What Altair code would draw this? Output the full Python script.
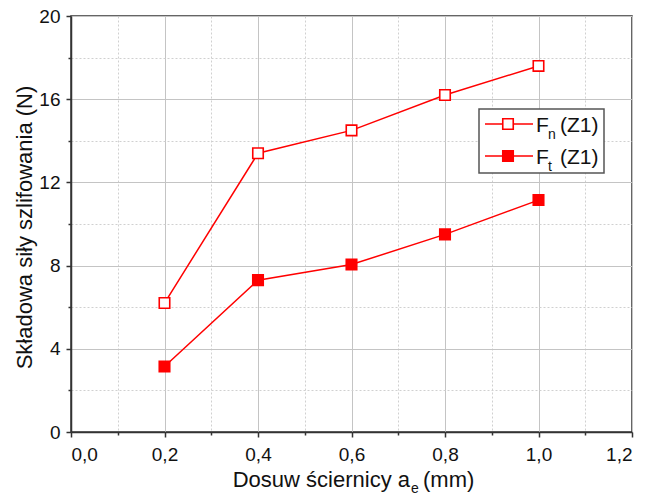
import altair as alt
import pandas as pd

# ---- data ----
dosuw = [0.2, 0.4, 0.6, 0.8, 1.0]
fn_z1 = [6.2, 13.4, 14.5, 16.2, 17.6]
ft_z1 = [3.15, 7.3, 8.05, 9.5, 11.15]
x_ticks = [0.0, 0.1, 0.2, 0.3, 0.4, 0.5, 0.6, 0.7, 0.8, 0.9, 1.0, 1.1, 1.2]
y_ticks = [0, 2, 4, 6, 8, 10, 12, 14, 16, 18, 20]
legend_main = ["F", "F"]
legend_sub = ["n", "t"]
legend_rest = ["(Z1)", "(Z1)"]

FONT = "Liberation Sans"
RED = "#ff0000"
AX = "#333333"

df = pd.DataFrame({
    "x": dosuw * 2,
    "y": fn_z1 + ft_z1,
    "s": ["Fn"] * len(dosuw) + ["Ft"] * len(dosuw),
})
df_n = df[df.s == "Fn"]
df_t = df[df.s == "Ft"]

x_minor = "round(datum.value*10) % 2 != 0"
y_minor = "datum.value % 4 != 0"

x_axis = alt.Axis(
    values=x_ticks,
    labelExpr="round(datum.value*10) % 2 == 0 ? replace(format(datum.value, '.1f'), '.', ',') : ''",
    labelFont=FONT, labelFontSize=19, labelColor="#111", labelPadding=8,
    tickSize={"condition": {"test": x_minor, "value": 3}, "value": 5},
    tickColor=AX, tickWidth=1.5,
    domainColor=AX, domainWidth=1.5,
    grid=True,
    gridColor={"condition": {"test": x_minor, "value": "#d0d0d0"}, "value": "#c4c4c4"},
    gridDash={"condition": {"test": x_minor, "value": [2, 2]}, "value": []},
    gridWidth=1,
    title=None,
)
y_axis = alt.Axis(
    values=y_ticks,
    labelExpr="datum.value % 4 == 0 ? format(datum.value, 'd') : ''",
    labelFont=FONT, labelFontSize=19, labelColor="#111", labelPadding=6,
    tickSize={"condition": {"test": y_minor, "value": 3}, "value": 5},
    tickColor=AX, tickWidth=1.5,
    domainColor=AX, domainWidth=1.5,
    grid=True,
    gridColor={"condition": {"test": y_minor, "value": "#d0d0d0"}, "value": "#c4c4c4"},
    gridDash={"condition": {"test": y_minor, "value": [2, 2]}, "value": []},
    gridWidth=1,
    title="Składowa siły szlifowania (N)",
    titleFont=FONT, titleFontSize=22, titleFontWeight="normal", titleColor="#111",
    titleAngle=-90, titleBaseline="alphabetic", titleX=-40, titleY=211,
)

xs = alt.Scale(domain=[0, 1.2], nice=False, zero=False)
ys = alt.Scale(domain=[0, 20], nice=False, zero=False)

line_n = alt.Chart(df_n).mark_line(color=RED, strokeWidth=1.5).encode(
    x=alt.X("x:Q", scale=xs, axis=x_axis), y=alt.Y("y:Q", scale=ys, axis=y_axis))
line_t = alt.Chart(df_t).mark_line(color=RED, strokeWidth=1.5).encode(
    x=alt.X("x:Q", scale=xs), y=alt.Y("y:Q", scale=ys))
pts_n = alt.Chart(df_n).mark_point(shape="square", size=110, filled=False, fill="white",
                                   fillOpacity=1, stroke=RED, strokeWidth=1.6, opacity=1).encode(
    x=alt.X("x:Q", scale=xs), y=alt.Y("y:Q", scale=ys))
pts_t = alt.Chart(df_t).mark_point(shape="square", size=110, filled=True, fill=RED,
                                   stroke=RED, strokeWidth=1.6, opacity=1).encode(
    x=alt.X("x:Q", scale=xs), y=alt.Y("y:Q", scale=ys))

one = pd.DataFrame({"k": [0]})

# x-axis title with subscript
xt1 = alt.Chart(one).mark_text(text="Dosuw ściernicy a", font=FONT, fontSize=22, align="right",
                               baseline="alphabetic", color="#111").encode(
    x=alt.value(339), y=alt.value(471))
xt2 = alt.Chart(one).mark_text(text="e", font=FONT, fontSize=14, align="left",
                               baseline="alphabetic", color="#111").encode(
    x=alt.value(340), y=alt.value(477))
xt3 = alt.Chart(one).mark_text(text="(mm)", font=FONT, fontSize=22, align="left",
                               baseline="alphabetic", color="#111").encode(
    x=alt.value(352), y=alt.value(471))

# legend
leg_box = alt.Chart(one).mark_rect(fill="white", stroke="#555555", strokeWidth=1.5).encode(
    x=alt.value(408), x2=alt.value(533), y=alt.value(93), y2=alt.value(157))
legend_layers = [leg_box]
for i, (ly, filled) in enumerate([(108, False), (140, True)]):
    legend_layers.append(alt.Chart(one).mark_rule(color=RED, strokeWidth=1.5).encode(
        x=alt.value(414), x2=alt.value(462), y=alt.value(ly)))
    legend_layers.append(alt.Chart(one).mark_point(
        shape="square", size=110, filled=filled, fill=RED if filled else "white",
        fillOpacity=1, stroke=RED, strokeWidth=1.6, opacity=1).encode(
        x=alt.value(437), y=alt.value(ly)))
    legend_layers.append(alt.Chart(one).mark_text(
        text=legend_main[i], font=FONT, fontSize=21, align="left", baseline="alphabetic",
        color="#111").encode(x=alt.value(465), y=alt.value(ly + 8)))
    legend_layers.append(alt.Chart(one).mark_text(
        text=legend_sub[i], font=FONT, fontSize=14, align="left", baseline="alphabetic",
        color="#111").encode(x=alt.value(477), y=alt.value(ly + 15)))
    legend_layers.append(alt.Chart(one).mark_text(
        text=legend_rest[i], font=FONT, fontSize=21, align="left", baseline="alphabetic",
        color="#111").encode(x=alt.value(489), y=alt.value(ly + 8)))

chart = alt.layer(
    line_n, line_t, pts_n, pts_t, xt1, xt2, xt3, *legend_layers
).properties(
    width=561, height=416,
    autosize=alt.AutoSizeParams(type="none"),
    padding={"left": 63, "top": 8, "right": 8, "bottom": 66},
    background="white",
).configure_view(
    stroke=AX, strokeWidth=1.5
)

chart.save("out.html", embed_options={"renderer": "svg", "actions": False})
